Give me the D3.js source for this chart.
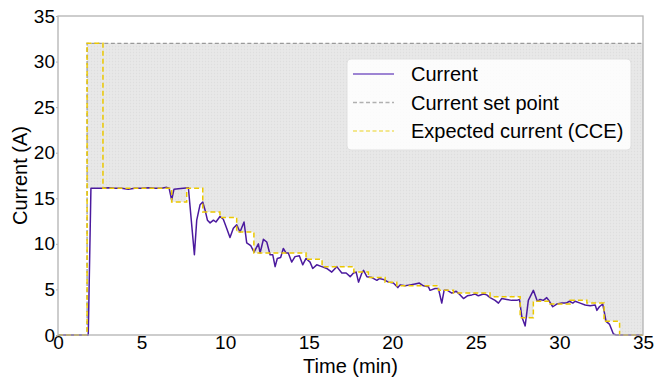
<!DOCTYPE html>
<html>
<head>
<meta charset="utf-8">
<script src="https://cdn.jsdelivr.net/npm/d3@7"></script>
<style>
  html, body { margin: 0; padding: 0; background: #fff; }
  svg { display: block; font-family: "Liberation Sans", Arial, sans-serif; }
</style>
</head>
<body>
<svg id="chart" width="656" height="377"></svg>
<script>
// Measured current (A) over time (min)
const currentTime = [0, 1.81, 1.97, 2.2, 2.6, 3.0, 3.4, 3.8, 4.2, 4.6, 5.0, 5.4, 5.8, 6.2, 6.5, 6.65, 6.8, 6.94, 7.2, 7.5, 7.8,
  8.16, 8.3, 8.5, 8.66, 8.8, 8.94, 9.1, 9.3, 9.45, 9.69, 9.89, 10.09, 10.29, 10.49, 10.69, 10.89, 11.13, 11.29, 11.53, 11.73,
  11.99, 12.09, 12.29, 12.49, 12.69, 12.85, 12.99, 13.12, 13.32, 13.48, 13.64, 13.78, 13.98, 14.18, 14.44, 14.64, 14.84, 15.08,
  15.24, 15.48, 15.78, 16.08, 16.38, 16.68, 16.98, 17.24, 17.48, 17.68, 17.84, 17.98, 18.18, 18.28, 18.48, 18.78, 19.08, 19.24,
  19.47, 19.77, 20.07, 20.33, 20.47, 20.77, 21.07, 21.36, 21.62, 21.86, 22.16, 22.26, 22.56, 22.76, 22.96, 23.1, 23.3, 23.56,
  23.82, 24.06, 24.26, 24.49, 24.76, 24.96, 25.15, 25.45, 25.65, 25.85, 26.15, 26.35, 26.55, 26.85, 27.15, 27.45, 27.61, 27.75,
  27.95, 28.14, 28.44, 28.68, 28.84, 29.04, 29.24, 29.4, 29.6, 29.84, 30.14, 30.4, 30.6, 30.8, 30.94, 31.24, 31.54, 31.84,
  32.14, 32.24, 32.39, 32.59, 32.79, 32.99, 33.23, 33.4, 35];
const currentValue = [0, 0, 16.1, 16.1, 16.1, 16.15, 16.1, 16.1, 16.0, 16.1, 16.1, 16.15, 16.1, 16.1, 16.2, 16.1, 14.8, 16.0, 16.05, 16.1, 16.15,
  8.8, 12.6, 14.3, 14.6, 13.7, 12.6, 12.3, 12.6, 12.4, 13.0, 12.7, 11.7, 10.7, 11.7, 12.1, 11.3, 12.4, 10.1, 9.8, 9.1,
  10.0, 9.0, 10.5, 10.2, 8.8, 8.8, 7.5, 8.4, 8.5, 9.5, 9.0, 9.0, 8.0, 8.6, 8.7, 7.7, 8.4, 8.0,
  7.3, 7.7, 7.5, 7.3, 6.9, 7.5, 6.8, 6.8, 6.4, 6.8, 6.9, 5.8, 6.8, 7.1, 6.4, 6.3, 6.0, 6.2,
  6.1, 5.8, 5.7, 5.2, 5.5, 5.4, 5.5, 5.6, 5.7, 5.4, 5.3, 4.9, 5.1, 5.1, 3.5, 4.9, 4.9, 4.6,
  4.8, 4.4, 4.0, 4.3, 4.4, 4.5, 4.3, 4.5, 4.4, 4.1, 3.8, 3.5, 4.0, 3.9, 3.8, 3.8, 3.9, 2.0,
  1.0, 3.8, 4.9, 3.7, 3.9, 3.8, 4.1, 3.7, 3.1, 3.4, 3.5, 3.5, 3.7, 3.5, 3.7, 3.5, 3.3, 3.2,
  3.3, 2.7, 3.1, 3.4, 1.5, 1.2, 0.1, 0, 0];

// Current set point (A), held from each time until the next
const setPointTime = [0, 1.74, 35];
const setPointValue = [0, 32, 32];

// Expected current from CCE (A), held from each time until the next
const expectedTime = [0, 1.74, 2.69, 6.8, 7.7, 8.66, 9.69, 10.69, 11.72, 14.84, 15.8, 17.7, 18.57, 19.57, 20.27,
  22.76, 23.66, 25.85, 27.65, 28.44, 29.44, 30.64, 31.64, 32.67, 33.6, 35];
const expectedValue = [0, 32, 16.1, 14.6, 16.1, 13.5, 12.9, 11.3, 9.0, 8.3, 7.5, 6.9, 6.3, 5.8, 5.4,
  4.9, 4.6, 4.2, 1.9, 3.7, 3.4, 3.8, 3.5, 1.5, 0, 0];

const xTicks = [0, 5, 10, 15, 20, 25, 30, 35];
const yTicks = [0, 5, 10, 15, 20, 25, 30, 35];
const legendLabels = ["Current", "Current set point", "Expected current (CCE)"];

const colors = { current: "#4b1a9e", setPoint: "#9a9a9a", expected: "#ebc800" };

const svg = d3.select("#chart");
const margin = { left: 58, top: 16, right: 13, bottom: 42 };
const W = 656, H = 377;

const x = d3.scaleLinear().domain([0, 35]).range([margin.left, W - margin.right]);
const y = d3.scaleLinear().domain([0, 35]).range([H - margin.bottom, margin.top]);

// fine dotted hatch for the gap between set point and expected current
const defs = svg.append("defs");
const pat = defs.append("pattern").attr("id", "dots").attr("patternUnits", "userSpaceOnUse")
  .attr("width", 3).attr("height", 3);
pat.append("rect").attr("width", 3).attr("height", 3).attr("fill", "#e8e8e8");
pat.append("circle").attr("cx", 1.5).attr("cy", 1.5).attr("r", 0.7).attr("fill", "#dedede");

const stepAt = (ts, vs, t) => { let v = vs[0]; for (let i = 0; i < ts.length; i++) if (ts[i] <= t) v = vs[i]; return v; };

// band floor: expected current, or the next expected level while CCE is saturated at the set point
const bandTimes = Array.from(new Set([...setPointTime, ...expectedTime])).sort((a, b) => a - b);
const band = bandTimes.map(t => {
  const sp = stepAt(setPointTime, setPointValue, t);
  let ex = stepAt(expectedTime, expectedValue, t);
  if (sp > 0 && ex >= sp) {
    const idx = expectedTime.findIndex(tt => tt > t);
    ex = idx >= 0 ? expectedValue[idx] : ex;
  }
  return { t, top: sp, floor: Math.min(ex, sp) };
});

svg.append("path")
  .datum(band)
  .attr("fill", "url(#dots)")
  .attr("d", d3.area().curve(d3.curveStepAfter).x(d => x(d.t)).y0(d => y(d.floor)).y1(d => y(d.top)));

// set point
svg.append("path")
  .datum(setPointTime.map((t, i) => [t, setPointValue[i]]))
  .attr("fill", "none").attr("stroke", colors.setPoint).attr("stroke-width", 1.3)
  .attr("stroke-dasharray", "4,2.5")
  .attr("d", d3.line().curve(d3.curveStepAfter).x(d => x(d[0])).y(d => y(d[1])));

// measured current
svg.append("path")
  .datum(currentTime.map((t, i) => [t, currentValue[i]]))
  .attr("fill", "none").attr("stroke", colors.current).attr("stroke-width", 1.5)
  .attr("stroke-linejoin", "round")
  .attr("d", d3.line().x(d => x(d[0])).y(d => y(d[1])));

// expected current
svg.append("path")
  .datum(expectedTime.map((t, i) => [t, expectedValue[i]]))
  .attr("fill", "none").attr("stroke", colors.expected).attr("stroke-width", 1.5)
  .attr("stroke-dasharray", "5,3")
  .attr("d", d3.line().curve(d3.curveStepAfter).x(d => x(d[0])).y(d => y(d[1])));

// frame
svg.append("rect")
  .attr("x", x(0)).attr("y", y(35)).attr("width", x(35) - x(0)).attr("height", y(0) - y(35))
  .attr("fill", "none").attr("stroke", "#b3b3b3").attr("stroke-width", 1.3);

// axes
const xAxis = svg.append("g").attr("transform", `translate(0,${y(0)})`)
  .call(d3.axisBottom(x).tickValues(xTicks).tickSize(0).tickPadding(0).tickFormat(d3.format("d")));
const yAxis = svg.append("g").attr("transform", `translate(${x(0)},0)`)
  .call(d3.axisLeft(y).tickValues(yTicks).tickSize(2).tickPadding(1).tickFormat(d3.format("d")));
[xAxis, yAxis].forEach(g => {
  g.select(".domain").remove();
  g.selectAll("text").attr("fill", "#000").style("font-size", "19px").style("font-family", "Liberation Sans, Arial, sans-serif");
  g.selectAll("line").attr("stroke", "#b3b3b3");
});

svg.append("text").attr("x", (x(0) + x(35)) / 2).attr("y", 373)
  .attr("text-anchor", "middle").style("font-size", "20px").text("Time (min)");
svg.append("text").attr("transform", `translate(27,${(y(0) + y(35)) / 2}) rotate(-90)`)
  .attr("text-anchor", "middle").style("font-size", "20px").text("Current (A)");

// legend
const lg = svg.append("g").attr("transform", "translate(347,59)");
lg.append("rect").attr("width", 284).attr("height", 91).attr("rx", 4)
  .attr("fill", "#fff").attr("fill-opacity", 0.85).attr("stroke", "#e0e0e0");
const legendStyles = [
  { color: "#7e5cc6", dash: null },
  { color: "#b0b0b0", dash: "4,2.5" },
  { color: "#efdf6a", dash: "4,2.5" }
];
legendLabels.forEach((lab, i) => {
  const yy = 15 + i * 28.5;
  lg.append("line").attr("x1", 6).attr("x2", 47).attr("y1", yy).attr("y2", yy)
    .attr("stroke", legendStyles[i].color).attr("stroke-width", 1.5)
    .attr("stroke-dasharray", legendStyles[i].dash);
  lg.append("text").attr("x", 64).attr("y", yy).attr("dy", "0.35em")
    .style("font-size", "20px").attr("fill", "#000").text(lab);
});
</script>
</body>
</html>
